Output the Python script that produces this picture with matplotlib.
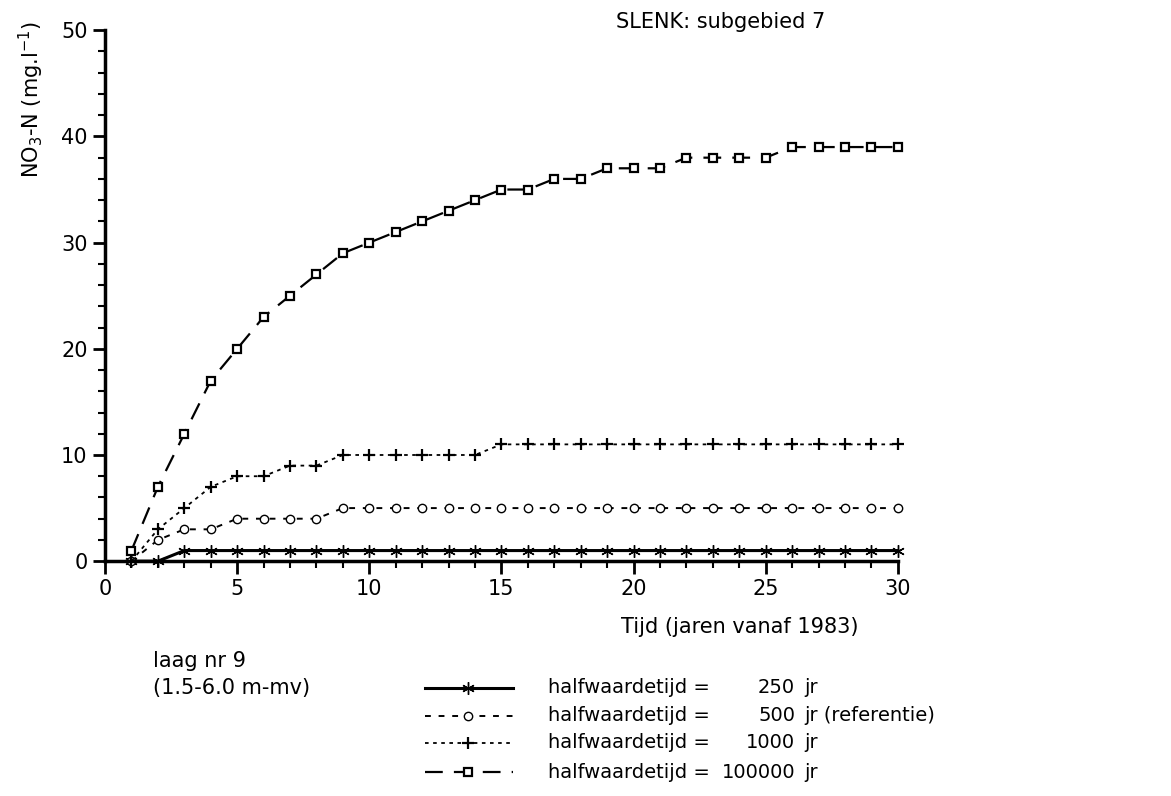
import matplotlib.pyplot as plt
from matplotlib.lines import Line2D
import numpy as np

# jaren vanaf 1983
years = list(range(1, 31))
# NO3-N (mg/l) per halfwaardetijd
hw250 = [0, 0] + [1] * 28
hw500 = [0, 2, 3, 3, 4, 4, 4, 4] + [5] * 22
hw1000 = [0, 3, 5, 7, 8, 8, 9, 9, 10, 10, 10, 10, 10, 10] + [11] * 16
hw100000 = [1, 7, 12, 17, 20, 23, 25, 27, 29, 30, 31, 32, 33, 34, 35, 35, 36, 36,
            37, 37, 37, 38, 38, 38, 38, 39, 39, 39, 39, 39]

series_labels = ['250', '500', '1000', '100000']
series_extra = ['', ' (referentie)', '', '']

plt.rcParams['font.family'] = 'DejaVu Sans'
fs = 15
lfs = 14  # legenda

fig = plt.figure(figsize=(11.71, 7.96), dpi=100)
ax = fig.add_axes([0.0897, 0.295, 0.677, 0.667])

styles = [
    dict(ls='-', marker=(6, 2, 0), ms=9, lw=2.2),
    dict(ls=(0, (3, 4)), marker='o', ms=6, mfc='white', lw=1.4),
    dict(ls=(0, (2, 2.5)), marker='+', ms=9, mew=1.6, lw=1.3),
    dict(ls=(0, (8, 5)), marker='s', ms=6, mfc='white', mew=1.6, lw=1.6),
]
data = [hw250, hw500, hw1000, hw100000]
for ys, st in zip(data, styles):
    ax.plot(years, ys, color='black', clip_on=False, **st)

ax.set_xlim(0, 30)
ax.set_ylim(0, 50)
ax.set_xticks(range(0, 31, 5))
ax.set_xticks(range(0, 31), minor=True)
ax.set_yticks(range(0, 51, 10))
ax.set_yticks(range(0, 51, 2), minor=True)
ax.spines['top'].set_visible(False)
ax.spines['right'].set_visible(False)
ax.spines['left'].set_linewidth(2.5)
ax.spines['bottom'].set_linewidth(2.5)
ax.tick_params(which='major', length=9, width=2, labelsize=fs)
ax.tick_params(which='minor', length=5, width=1.5)

ax.set_ylabel('NO$_3$-N (mg.l$^{-1}$)', fontsize=fs, labelpad=12)
ax.yaxis.set_label_coords(-0.075, 0.87)
ax.set_xlabel('Tijd (jaren vanaf 1983)', fontsize=fs, labelpad=12)
ax.xaxis.set_label_coords(0.95, -0.105)
ax.xaxis.label.set_ha('right')

fig.text(0.615, 0.972, 'SLENK: subgebied 7', fontsize=fs, ha='center', va='center')

# legenda onderaan
fig.text(0.131, 0.170, 'laag nr 9', fontsize=fs, va='center')
fig.text(0.131, 0.136, '(1.5-6.0 m-mv)', fontsize=fs, va='center')
row_y = [0.136, 0.101, 0.067, 0.030]
for i, st in enumerate(styles):
    y = row_y[i]
    ln = Line2D([0.363, 0.438], [y, y], color='black', ls=st['ls'], lw=st['lw'],
                transform=fig.transFigure)
    fig.add_artist(ln)
    mk = Line2D([0.400], [y], color='black', marker=st['marker'], ms=st['ms'],
                mfc=st.get('mfc', 'black'), mew=st.get('mew', 1.0), ls='none',
                transform=fig.transFigure)
    fig.add_artist(mk)
    fig.text(0.468, y, 'halfwaardetijd =', fontsize=lfs, va='center')
    fig.text(0.679, y, series_labels[i], fontsize=lfs, va='center', ha='right')
    fig.text(0.687, y, 'jr' + series_extra[i], fontsize=lfs, va='center')

plt.savefig('out.png', dpi=100)
